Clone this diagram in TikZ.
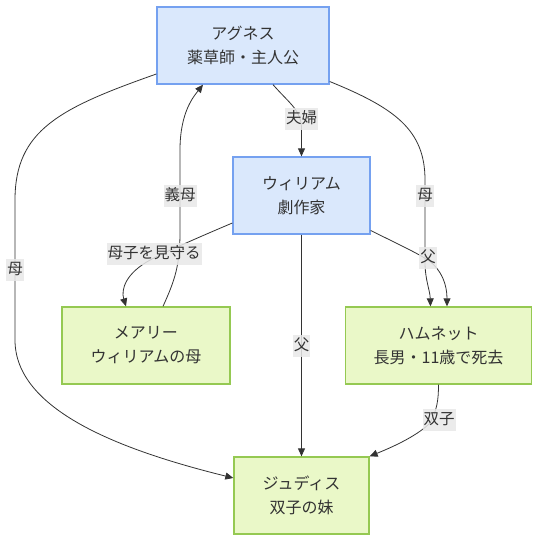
\documentclass[tikz,border=0pt]{standalone}
\usepackage{fontspec}
\setmainfont{Noto Sans CJK JP}
\usetikzlibrary{arrows.meta}
\definecolor{bfill}{HTML}{DAE8FC}
\definecolor{bdraw}{HTML}{75A1F0}
\definecolor{gfill}{HTML}{EAF8C8}
\definecolor{gdraw}{HTML}{95C952}
\definecolor{txt}{HTML}{333333}
\definecolor{lblbg}{HTML}{E8E8E8}
\definecolor{edgec}{HTML}{333333}
\begin{document}
\begin{tikzpicture}[x=1pt,y=-1pt,
 box/.style={draw, line width=1.3pt, inner sep=0pt, align=center, text=txt, font=\fontsize{16}{24}\selectfont},
 bluebox/.style={box, fill=bfill, draw=bdraw},
 greenbox/.style={box, fill=gfill, draw=gdraw},
 lbl/.style={fill=lblbg, fill opacity=0.85, text opacity=1, text=txt, inner xsep=1pt, inner ysep=3pt, text height=12pt, text depth=4pt, font=\fontsize{15.5}{16}\selectfont},
 conn/.style={draw=edgec, line width=0.8pt, -{Triangle[length=8pt,width=7pt]}}]
\useasboundingbox (0,0) rectangle (548,550);
\node[bluebox, minimum width=172pt, minimum height=77pt] (agnes) at (243,45.5) {アグネス\\薬草師・主人公};
\node[bluebox, minimum width=137pt, minimum height=77pt] (william) at (301.5,195.5) {ウィリアム\\劇作家};
\node[greenbox, minimum width=168pt, minimum height=77pt] (mary) at (146,345.5) {メアリー\\ウィリアムの母};
\node[greenbox, minimum width=186pt, minimum height=77pt] (hamnet) at (438.5,345.5) {ハムネット\\長男・11歳で死去};
\node[greenbox, minimum width=135pt, minimum height=77pt] (judith) at (301.5,495.5) {ジュディス\\双子の妹};
% edges
\draw[conn] ([xshift=30pt]agnes.south) .. controls (290,104) and (301,110) .. (301.5,128) -- (william.north);
\draw[conn] ([xshift=17pt]mary.north) .. controls (175,280) and (180,265) .. (180,232) -- (180,150) .. controls (180,112) and (194,96) .. ([xshift=-40pt]agnes.south);
\draw[conn] ([yshift=-28.5pt]agnes.west) .. controls (60,108) and (15,130) .. (15,200) -- (15,340) .. controls (15,410) and (120,450) .. ([yshift=17.5pt]judith.west);
\draw[conn] ([yshift=-36pt]agnes.east) .. controls (395,108) and (425,130) .. (425,180) -- (425,262) .. controls (425,280) and (430,290) .. ([xshift=-8pt]hamnet.north);
\draw[conn] ([yshift=-27.5pt]william.west) .. controls (190,241) and (170,250) .. (152,259) .. controls (125,273) and (121,290) .. ([xshift=-20pt]mary.north);
\draw[conn] ([yshift=-35pt]william.east) .. controls (400,245) and (415,252) .. (428,260) .. controls (442,270) and (447,285) .. ([xshift=8.5pt]hamnet.north);
\draw[conn] (william.south) -- (judith.north);
\draw[conn] (hamnet.south) .. controls (438.5,400) and (437,410) .. (430,423) .. controls (415,438) and (385,450) .. (judith.north east);
% labels
\node[lbl] (l1) at (301.5,119) {夫婦};
\node[lbl] (l2) at (180,196) {義母};
\node[lbl] (l3) at (15,270) {母};
\node[lbl] (l4) at (425,196) {母};
\node[lbl] (l5) at (154,254) {母子を見守る};
\node[lbl] (l6) at (428,258) {父};
\node[lbl] (l7) at (301.5,346) {父};
\node[lbl] (l8) at (439,420) {双子};
\end{tikzpicture}
\end{document}
